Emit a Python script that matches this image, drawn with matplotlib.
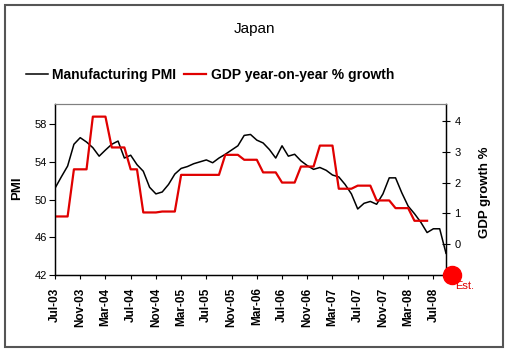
import numpy as np
import matplotlib
matplotlib.use('Agg')
import matplotlib.pyplot as plt
from matplotlib.patches import Rectangle

plt.rcParams['font.family'] = ['Liberation Sans', 'DejaVu Sans']

# monthly data, Jul-03 onwards
pmi = [51.2, 52.4, 53.55, 55.86, 56.56, 56.1, 55.5, 54.6, 55.25, 55.86,
       56.2, 54.4, 54.7, 53.7, 53.0, 51.3, 50.6, 50.8, 51.6, 52.7,
       53.3, 53.5, 53.8, 54.0, 54.2, 53.9, 54.4, 54.8, 55.25, 55.7,
       56.8, 56.9, 56.3, 56.0, 55.3, 54.4, 55.7, 54.6, 54.8, 54.1,
       53.6, 53.2, 53.4, 53.1, 52.6, 52.4, 51.6, 50.6, 49.0, 49.6,
       49.8, 49.5, 50.6, 52.3, 52.3, 50.7, 49.3, 48.5, 47.6, 46.5,
       46.9, 46.9, 44.3]

gdp = [0.9, 0.9, 0.9, 2.43, 2.43, 2.43, 4.14, 4.14, 4.14, 3.14,
       3.14, 3.14, 2.43, 2.43, 1.03, 1.03, 1.03, 1.06, 1.06, 1.06,
       2.25, 2.25, 2.25, 2.25, 2.25, 2.25, 2.25, 2.9, 2.9, 2.9,
       2.74, 2.74, 2.74, 2.33, 2.33, 2.33, 2.0, 2.0, 2.0, 2.52,
       2.52, 2.52, 3.2, 3.2, 3.2, 1.8, 1.8, 1.8, 1.9, 1.9,
       1.9, 1.42, 1.42, 1.42, 1.17, 1.17, 1.17, 0.76, 0.76, 0.76]

# estimate point (Oct-08)
est_month = 63
est_gdp = -1.0

tick_months = [0, 4, 8, 12, 16, 20, 24, 28, 32, 36, 40, 44, 48, 52, 56, 60]
tick_labels = ['Jul-03', 'Nov-03', 'Mar-04', 'Jul-04', 'Nov-04', 'Mar-05',
               'Jul-05', 'Nov-05', 'Mar-06', 'Jul-06', 'Nov-06', 'Mar-07',
               'Jul-07', 'Nov-07', 'Mar-08', 'Jul-08']
gdp_ticks = [-1, 0, 1, 2, 3, 4]
gdp_tick_labels = ['', '0', '1', '2', '3', '4']

W, H = 510, 355
fig = plt.figure(figsize=(W / 100, H / 100), dpi=100)
fig.patch.set_facecolor('white')

ax = fig.add_axes([55 / W, 1 - 275 / H, 391 / W, 171 / H])
ax2 = ax.twinx()

l1, = ax.plot(np.arange(len(pmi)), pmi, color='black', lw=1.1)
l2, = ax2.plot(np.arange(len(gdp)), gdp, color='#e00000', lw=1.6)
ax2.plot(est_month, est_gdp, 'o', color='#ff0000', ms=13, clip_on=False, zorder=6)
ax2.annotate('Est.', xy=(est_month, est_gdp), xytext=(9, -8),
             textcoords='offset points', ha='center', va='center',
             color='#e00000', fontsize=8, annotation_clip=False)

ax.set_xlim(0, 62)
ax.set_ylim(42, 60.13)
ax2.set_ylim(-1, 4.55)

ax.set_xticks(tick_months, tick_labels, rotation=90, fontweight='bold', fontsize=8.5)
ax.set_yticks([42, 46, 50, 54, 58])
ax2.set_yticks(gdp_ticks, gdp_tick_labels)
ax.tick_params(axis='x', direction='out', length=3, width=0.8, pad=6)
ax.tick_params(axis='y', direction='out', length=4, width=0.8, labelsize=8, pad=2)
ax2.tick_params(axis='y', direction='inout', length=6, width=0.8, labelsize=8, pad=3)

for a in (ax, ax2):
    a.spines['top'].set_color('#808080')
    a.spines['top'].set_linewidth(0.8)
    for s in ('left', 'right', 'bottom'):
        a.spines[s].set_color('black')
        a.spines[s].set_linewidth(0.9)

fig.text(17 / W, 1 - 188 / H, 'PMI', rotation=90, ha='center', va='center',
         fontsize=9.5, fontweight='bold')
fig.text(485 / W, 1 - 192 / H, 'GDP growth %', rotation=90, ha='center', va='center',
         fontsize=9.5, fontweight='bold')

fig.text(254 / W, 1 - 29 / H, 'Japan', ha='center', va='center', fontsize=11)

fig.legend(handles=[l1, l2], labels=['Manufacturing PMI', 'GDP year-on-year % growth'],
           loc='center left', bbox_to_anchor=(13 / W, 1 - 75 / H), ncol=2,
           frameon=False, handlelength=1.6, handletextpad=0.3, columnspacing=0.6,
           prop={'weight': 'bold', 'size': 10})

# outer frame
fig.patches.append(Rectangle((5 / W, 1 - 347 / H), 498 / W, 342 / H,
                             transform=fig.transFigure, fill=False,
                             ec='#555555', lw=1.5))

plt.savefig('out.png', dpi=100, facecolor=fig.get_facecolor())
